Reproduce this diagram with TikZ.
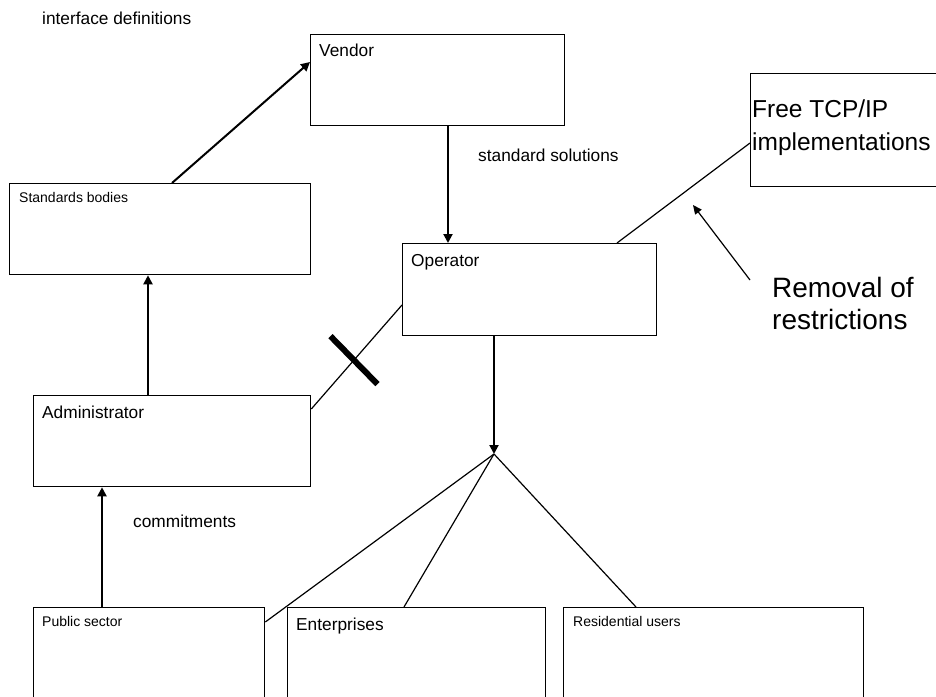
\documentclass[tikz,border=0pt]{standalone}
\usepackage{fontspec}
\setmainfont{Liberation Sans}
\usetikzlibrary{arrows.meta,calc}
\begin{document}
\begin{tikzpicture}[x=1bp,y=-1bp,
  box/.style={draw=black,line width=1.3bp,inner sep=0pt,anchor=north west},
  lbl/.style={inner sep=0pt,anchor=base west},
  fsmall/.style={font=\fontsize{14bp}{16bp}\selectfont},
  fmid/.style={font=\fontsize{17.3bp}{20bp}\selectfont},
  fbig/.style={font=\fontsize{24.5bp}{28bp}\selectfont},
  fhuge/.style={font=\fontsize{28bp}{32bp}\selectfont},
  arr/.style={line width=2bp,-{Triangle[length=9bp,width=9bp]}},
  thinarr/.style={line width=1.2bp,-{Triangle[length=9bp,width=8bp]}},
  link/.style={line width=1.2bp},
  bar/.style={line width=6bp}]
  \clip (0,0) rectangle (936,697);

  % boxes
  \node[box,minimum width=301bp,minimum height=91bp] (standards) at (9,183) {};
  \node[box,minimum width=254bp,minimum height=91bp] (vendor) at (310,34) {};
  \node[box,minimum width=254bp,minimum height=92bp] (operator) at (402,243) {};
  \node[box,minimum width=277bp,minimum height=91bp] (admin) at (33,395) {};
  \node[box,minimum width=230bp,minimum height=113bp] (tcp) at (750,73) {};
  \node[box,minimum width=231bp,minimum height=120bp] (public) at (33,607) {};
  \node[box,minimum width=258bp,minimum height=120bp] (enterprises) at (287,607) {};
  \node[box,minimum width=300bp,minimum height=120bp] (residential) at (563,607) {};

  % box titles
  \node[lbl,fsmall] (standardsT) at ($(standards.north west)+(10,19)$) {Standards bodies};
  \node[lbl,fmid] (vendorT) at ($(vendor.north west)+(9,23)$) {Vendor};
  \node[lbl,fmid] (operatorT) at ($(operator.north west)+(9,23)$) {Operator};
  \node[lbl,fmid] (adminT) at ($(admin.north west)+(9,23)$) {Administrator};
  \node[lbl,fbig] (tcpT1) at ($(tcp.north west)+(2,45)$) {Free TCP/IP};
  \node[lbl,fbig] (tcpT2) at ($(tcpT1.base west)+(0,33)$) {implementations};
  \node[lbl,fsmall] (publicT) at ($(public.north west)+(9,19)$) {Public sector};
  \node[lbl,fmid] (enterprisesT) at ($(enterprises.north west)+(9,23)$) {Enterprises};
  \node[lbl,fsmall] (residentialT) at ($(residential.north west)+(10,19)$) {Residential users};

  % free-standing labels
  \node[lbl,fmid] (ifdef) at (42,25) {interface definitions};
  \node[lbl,fmid] (stdsol) at (478,162) {standard solutions};
  \node[lbl,fmid] (commit) at (133,527) {commitments};
  \node[lbl,fhuge] (removal1) at (772,297) {Removal of};
  \node[lbl,fhuge] (removal2) at ($(removal1.base west)+(0,32)$) {restrictions};

  % arrows
  \draw[arr] ($(standards.north west)+(163,0)$) -- ($(vendor.north west)+(0,28)$);
  \draw[arr] ($(vendor.south west)+(138,0)$) coordinate (v1) -- (v1 |- operator.north);
  \draw[arr] ($(admin.north west)+(115,0)$) coordinate (a1) -- (a1 |- standards.south);
  \draw[arr] ($(public.north west)+(69,0)$) coordinate (p1) -- (p1 |- admin.south);
  \coordinate (fork) at (494,454);
  \draw[arr] ($(operator.south west)+(92,0)$) -- (fork);

  % plain links
  \draw[link] ($(admin.north east)+(0,14)$) coordinate (ae) -- ($(operator.north west)+(0,62)$) coordinate (ow);
  \draw[link] ($(operator.north west)+(215,0)$) -- ($(tcp.north west)+(0,70)$);
  \draw[link] (fork) -- ($(public.north east)+(0,15)$);
  \draw[link] (fork) -- ($(enterprises.north west)+(117,0)$);
  \draw[link] (fork) -- ($(residential.north west)+(73,0)$);

  % blocking bar across the administrator-operator link
  \coordinate (blk) at ($(ae)!0.47!(ow)$);
  \draw[bar] ($(blk)+(-23.5,-24)$) -- ($(blk)+(23.5,24)$);

  % pointer from the note to the TCP/IP link
  \coordinate (remTail) at (750,280);
  \coordinate (remTip) at (693,205);
  \draw[thinarr] (remTail) -- (remTip);
\end{tikzpicture}
\end{document}
